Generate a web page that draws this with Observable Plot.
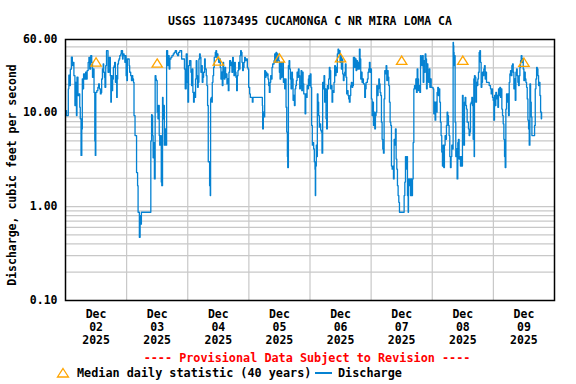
<!DOCTYPE html>
<html><head><meta charset="utf-8">
<script src="https://cdn.jsdelivr.net/npm/d3@7"></script>
<script src="https://cdn.jsdelivr.net/npm/@observablehq/plot@0.6"></script>
<style>
html,body{margin:0;padding:0;background:#fff;}
body{width:576px;height:384px;overflow:hidden;position:relative;font-family:"DejaVu Sans Mono",monospace;font-weight:bold;font-size:11.5px;color:#000;}
.abs{position:absolute;line-height:14px;white-space:nowrap;}
#title{top:14px;left:0;width:620px;text-align:center;}
#chart{position:absolute;top:30px;left:0;}
#prov{top:351px;left:0;width:614px;text-align:center;color:#ff0000;font-size:11.8px;}
#leg{top:366px;left:0;width:576px;height:14px;font-size:11.8px;}
</style></head><body>
<div id="title" class="abs"></div>
<div id="chart"></div>
<div id="prov" class="abs"></div>
<div id="leg" class="abs"></div>
<script>
// ---- data ----
const titleText = "USGS 11073495 CUCAMONGA C NR MIRA LOMA CA";
const yLabel = "Discharge, cubic feet per second";
const provisionalText = "---- Provisional Data Subject to Revision ----";
const legendMedian = "Median daily statistic (40 years)";
const legendDischarge = "Discharge";

// hours after 2025-12-02 00:00 and discharge (cfs)
const hours = [
0,0.4,1.0,1.1,1.3,1.6,1.9,2.3,2.7,3.0,3.3,3.7,4.0,4.3,4.5,4.9,5.3,5.6,5.8,6.1,6.4,6.6,6.9,7.1,7.5,7.9,8.2,8.5,8.9,9.2,9.5,9.9,10.3,10.6,10.8,11.2,11.5,11.6,11.7,11.9,
12.3,12.7,13.0,13.3,13.7,14.0,14.2,14.5,14.8,15.0,15.3,15.5,15.8,16.1,16.5,16.7,17.1,17.4,17.6,17.8,18.0,18.3,18.5,18.8,19.1,19.3,19.6,19.9,20.1,20.3,20.5,20.8,21.0,21.3,21.7,21.9,22.4,22.6,23.0,23.3,23.5,23.8,
24.1,24.3,24.7,25.0,25.2,25.6,25.9,26.2,26.4,26.7,26.9,27.3,27.6,27.9,28.1,28.3,28.5,28.9,29.0,29.3,29.6,29.8,33.4,33.5,33.8,34.0,34.2,34.4,34.7,34.9,35.2,35.5,35.7,36.0,36.3,36.5,36.8,37.0,37.3,37.6,37.8,
38.1,38.3,38.6,38.8,39.1,39.4,39.7,40.1,40.4,40.7,41.0,41.4,41.8,42.3,42.7,43.1,43.6,44.0,44.4,44.9,45.6,46.2,46.7,47.0,
47.40,47.79,48.06,48.32,48.71,48.97,49.24,49.50,49.76,50.02,50.28,50.55,50.81,51.07,51.33,51.60,51.86,52.12,52.38,52.64,52.91,53.17,53.43,53.69,53.96,54.22,54.61,54.87,55.27,55.53,55.79,56.05,56.31,56.58,56.84,56.97,
57.23,57.49,57.63,57.89,58.15,58.41,58.81,59.07,59.33,59.59,59.85,60.12,60.38,60.77,61.03,61.30,61.56,61.82,62.08,62.35,62.61,62.87,63.13,63.39,63.66,63.92,64.18,64.44,64.84,65.10,65.36,65.62,65.89,66.15,66.41,66.67,66.93,
67.20,67.46,67.72,67.98,68.24,68.51,68.77,69.03,69.29,69.56,69.82,70.08,70.34,70.60,71.00,71.39,71.65,71.92,72.31,72.57,73.10,73.36,73.62,77.03,77.29,77.42,77.68,77.95,78.21,78.47,78.73,78.99,79.26,79.52,79.78,80.04,
80.31,80.57,80.83,81.09,81.35,81.62,81.88,82.14,82.40,82.67,82.93,83.19,83.45,83.71,83.98,84.24,84.50,84.76,85.03,85.29,85.55,85.81,86.07,86.34,86.60,86.86,87.12,87.25,87.52,87.78,88.04,88.30,88.57,88.83,89.09,89.35,
89.61,89.88,90.14,90.40,90.66,90.93,91.19,91.45,91.71,91.97,92.24,92.50,92.76,93.02,93.29,93.55,93.81,94.07,94.33,94.60,94.86,95.12,95.38,
95.60,95.86,96.12,96.39,96.65,96.91,97.17,97.44,97.70,97.96,98.09,98.22,98.48,98.75,98.88,99.14,99.40,99.66,99.93,100.19,100.45,100.71,100.98,101.24,101.50,101.76,102.02,102.29,102.55,102.81,103.07,103.33,103.60,103.86,
104.12,104.38,104.65,104.91,105.17,105.43,105.69,105.96,106.22,106.48,106.74,107.01,107.27,107.53,107.79,108.05,108.32,108.58,108.84,109.10,109.37,109.63,109.89,110.15,110.41,110.68,110.94,111.20,111.46,111.73,111.99,
112.25,112.51,112.77,113.04,113.30,113.56,113.82,114.09,114.35,114.61,114.87,115.13,115.40,115.66,115.92,116.18,116.44,116.71,116.97,117.23,117.49,117.76,118.02,118.28,118.54,118.80,119.07,119.33,119.59,119.85,
120.12,120.38,120.64,120.90,121.16,121.43,121.69,121.95,122.21,122.48,122.74,123.00,123.26,123.52,123.79,124.05,124.31,124.57,124.84,125.10,125.36,125.62,125.88,126.15,126.41,126.67,126.93,127.20,127.46,127.72,127.98,
128.24,128.51,128.77,129.03,129.29,129.55,129.82,130.08,130.34,130.60,130.87,131.13,132.70,132.96,133.23,133.49,133.75,134.01,134.27,134.54,134.67,134.93,135.19,135.45,135.72,135.98,136.24,136.50,136.77,137.03,137.29,
137.55,137.81,138.08,138.34,138.60,138.86,139.13,139.39,139.65,139.91,140.17,140.44,140.70,140.96,141.22,141.49,141.75,142.01,142.27,142.53,142.80,143.06,143.32,143.58,
143.80,144.32,144.59,144.85,145.11,145.37,145.64,145.90,146.16,146.42,146.68,146.95,147.21,147.47,147.73,148.00,148.26,148.52,148.78,149.04,149.31,149.57,149.83,150.09,150.36,150.62,150.88,151.14,151.40,151.67,151.93,
152.19,152.32,152.45,152.58,152.71,152.98,153.24,153.50,153.76,154.03,154.29,154.55,154.81,155.07,155.34,155.60,155.86,156.12,156.39,156.65,156.91,157.17,157.43,157.70,157.96,158.22,158.48,158.75,159.01,159.27,159.53,
159.79,160.06,160.32,160.45,160.58,160.84,161.11,161.37,161.63,161.89,162.15,162.42,162.68,162.94,163.20,163.47,163.73,163.99,164.25,164.51,164.78,165.04,165.30,166.09,166.35,166.61,166.87,167.14,167.40,167.66,167.92,
168.18,168.45,168.71,168.97,169.23,169.50,169.76,170.02,170.28,170.54,170.81,171.07,171.33,171.59,171.86,172.12,172.38,172.64,172.90,173.17,173.43,173.69,173.95,174.22,174.48,174.74,175.00,175.26,175.53,175.79,176.05,
176.31,176.58,176.84,177.10,177.36,177.62,177.89,178.15,178.41,178.67,178.93,179.20,179.46,179.72,179.98,180.25,180.51,180.77,181.03,181.29,181.56,181.82,182.08,182.34,182.61,182.87,183.13,183.92,184.18,184.44,184.71,
184.97,185.23,185.49,185.75,186.02,186.28,186.54,186.80,186.93
];
const cfs = [
10.5,9.3,9.3,17.9,25,19.4,29,39,31.6,34.3,24.7,11.9,21,9.3,23.8,15.2,15.8,11.4,8.6,3.5,6.7,22.8,17.9,25.8,22.8,26.9,22.8,28,34.3,38.8,29.1,40.4,34.3,23.8,29.1,16.4,5.0,7.9,3.5,16.4,
17.1,18.6,20.2,17.9,15.8,16.4,22.8,29.1,32.9,26.9,23.8,18.6,31.6,45.6,45.6,26.9,38.8,38.8,24.7,12.9,24.7,17.1,22.8,30.3,31.6,34.3,21.0,24.7,14.5,22.8,32.9,35.7,37.2,40.4,42.1,45.6,37.2,42.1,40.4,34.3,40.4,24.7,
21.9,37.2,37.2,31.6,26.9,24.7,21.9,24.7,22.8,21.0,9.3,5.7,5.7,2.3,2.3,1.67,0.87,0.87,0.47,0.8,0.65,0.87,0.87,5.0,9.5,9.3,5.7,3.3,4.8,1.97,24.7,22.8,21.9,10.1,8.6,11.9,5.7,4.5,5.7,1.82,1.67,
14.5,8.6,11.9,4.5,6.7,4.5,45.6,31.6,40.4,29.1,37.2,38.8,40.4,42.1,43.8,45.6,42.1,40.4,43.8,45.6,37.2,37.2,29.1,17.9,
42.1,21.0,12.9,31.6,35.7,35.7,26.9,19.4,29.1,16.4,12.9,16.4,14.5,22.8,35.7,24.7,18.6,21.0,37.2,42.1,38.8,26.9,31.6,21.0,23.8,26.9,37.2,29.1,24.7,19.4,11.9,3.0,3.0,1.67,1.31,14.0,
14.5,12.9,21.0,24.7,30.3,38.8,43.8,45.6,38.8,42.1,37.2,34.3,37.2,30.3,22.8,26.9,19.4,34.3,26.9,22.8,30.3,23.8,25.8,20.2,22.8,17.1,26.9,35.7,31.6,34.3,26.9,38.8,29.1,24.7,34.3,26.9,23.8,
17.1,24.7,28.0,34.3,29.1,40.4,45.6,43.8,34.3,28.0,30.3,34.3,38.8,35.7,37.2,30.3,29.1,18.6,15.8,14.5,14.5,12.9,14.5,14.5,11.9,6.7,10.1,9.0,28.0,23.8,26.9,24.7,25.8,22.8,19.4,16.4,
21.0,24.7,22.8,30.3,32.9,32.9,35.7,42.1,34.3,43.8,34.3,42.1,40.4,35.7,26.9,22.8,34.3,23.8,29.1,34.3,21.0,22.8,17.9,22.8,11.4,6.2,3.4,2.6,31.6,35.7,29.1,22.8,17.9,26.9,22.8,13.5,
15.2,11.9,17.9,19.4,21.9,26.9,23.8,29.1,24.7,17.9,19.4,28.0,17.1,26.9,20.2,15.8,15.8,9.7,15.8,14.5,19.4,17.9,22.8,
24.7,19.4,25.8,18.6,7.3,4.5,4.8,4.1,3.0,2.5,1.31,2.7,4.5,3.4,15.8,12.9,9.3,7.0,7.6,6.5,6.2,3.7,21.0,17.9,24.7,12.9,17.9,8.6,6.7,19.4,17.9,22.8,30.3,28.0,
17.9,19.4,12.9,17.1,16.4,21.0,31.6,24.7,30.3,26.9,42.1,47.5,42.1,45.6,34.3,40.4,29.1,37.2,25.8,21.9,24.7,26.9,32.9,23.8,15.8,17.1,15.2,14.0,12.9,15.2,19.4,
21.0,18.6,19.4,38.8,38.8,30.3,37.2,28.0,35.7,29.1,34.3,29.1,47.5,37.2,22.8,26.9,21.0,22.8,20.2,20.2,14.5,17.9,21.0,21.0,22.8,26.9,29.1,34.3,26.9,29.1,
14.0,9.3,12.9,7.3,10.1,6.7,9.3,10.1,19.4,15.2,17.9,22.8,20.2,16.4,15.2,7.9,5.2,4.1,3.7,14.0,28.0,25.8,31.6,21.9,28.0,23.8,19.4,12.9,7.9,7.3,2.7,
2.5,2.7,1.97,5.2,4.5,6.7,3.2,2.5,1.67,1.31,1.11,0.87,0.87,1.31,1.82,3.4,2.5,3.4,1.31,0.87,1.97,1.67,1.97,1.31,1.97,1.31,1.97,4.8,17.9,19.4,17.9,
22.8,16.4,29.1,22.8,17.1,19.4,16.4,40.4,37.2,31.6,40.4,21.0,35.7,26.9,42.1,37.2,17.9,32.9,25.8,21.0,29.1,18.6,22.8,18.6,
18.6,17.9,9.7,12.9,8.3,12.9,10.1,16.4,18.6,15.2,17.9,12.9,7.9,5.7,3.8,2.7,4.5,2.6,4.5,5.7,5.2,7.3,10.1,9.3,7.3,5.7,3.4,2.6,3.4,4.5,4.1,
56,51.6,43.8,31.6,40.4,7.9,3.4,4.1,1.97,4.8,5.2,3.2,3.4,2.7,3.4,2.7,15.2,7.9,4.5,12.9,14.5,11.9,10.9,7.9,7.9,6.7,5.7,6.2,12.4,12.9,14.5,
11.9,5.2,22.8,3.4,24.7,23.8,12.9,21.0,19.4,22.8,26.9,43.8,45.6,34.3,18.6,21.0,26.9,24.7,29.1,31.6,22.8,26.9,21.0,21.0,19.4,19.4,17.9,15.8,17.9,14.5,13.5,
8.3,15.2,11.9,16.4,14.0,15.2,11.4,17.9,15.2,18.6,14.5,17.9,10.9,9.3,7.6,5.2,3.4,2.6,10.9,15.8,12.9,15.8,9.3,21.0,25.8,28.0,24.7,31.6,32.9,26.9,17.9,
22.8,13.5,26.9,29.1,24.7,21.0,19.4,24.7,30.3,35.7,40.4,34.3,37.2,29.1,21.9,26.9,22.8,21.0,18.6,14.0,8.3,6.7,4.5,20.2,12.9,9.0,5.7,5.7,7.3,17.9,22.8,
30.3,29.1,24.7,19.4,21.0,15.2,10.1,8.6,10.1
];

// median daily statistic, at noon of each day
const medianDays = [2, 3, 4, 5, 6, 7, 8, 9];
const medianCfs = [34.5, 33.6, 35.3, 38.0, 38.3, 36.0, 36.0, 34.3];

// axis ticks
const yTicks = [0.1, 1, 10, 60];
const yGrid = [0.2,0.3,0.4,0.5,0.6,0.7,0.8,0.9,1,2,3,4,5,6,7,8,9,10,20,30,40,50];
const xMonth = "Dec";
const xDays = ["02","03","04","05","06","07","08","09"];
const xYear = "2025";

// ---- build ----
const start = Date.UTC(2025, 11, 2);
const H = 3600e3;
const series = hours.map((h, i) => ({t: new Date(start + h * H), v: cfs[i]}));
const medians = medianDays.map((d, i) => ({t: new Date(Date.UTC(2025, 11, d, 12)), v: medianCfs[i]}));
const xTicks = xDays.map((d, i) => ({t: new Date(start + (i * 24 + 12) * H), label: xMonth + "\n" + d + "\n" + xYear}));
const dayLines = d3.range(1, 8).map(i => new Date(start + i * 24 * H));

const hollowTri = {
  draw(ctx) {
    ctx.moveTo(0, -4.3);
    ctx.lineTo(5.2, 4);
    ctx.lineTo(-5.2, 4);
    ctx.closePath();
  }
};

const chart = Plot.plot({
  width: 576,
  height: 322,
  marginTop: 9,
  marginBottom: 52,
  marginLeft: 65,
  marginRight: 22,
  x: {type: "utc", domain: [new Date(start), new Date(start + 8 * 24 * H)], axis: null},
  y: {type: "log", domain: [0.1, 60], axis: null},
  style: {fontFamily: '"DejaVu Sans Mono", monospace', fontWeight: "bold", fontSize: "11.5px", color: "#000", background: "#fff", overflow: "visible"},
  marks: [
    Plot.ruleY(yGrid, {stroke: "#c8c8c8", strokeWidth: 1.2}),
    Plot.ruleX(dayLines, {stroke: "#c8c8c8", strokeWidth: 1.2}),
    Plot.line(series, {x: "t", y: "v", stroke: "#0582d2", strokeWidth: 1.3, curve: "step-after"}),
    Plot.dot(medians, {x: "t", y: "v", symbol: hollowTri, stroke: "#ffa500", fill: "none", strokeWidth: 1.3}),
    Plot.frame({stroke: "#000", strokeWidth: 1.5}),
    Plot.text(yTicks, {y: d => d, text: d => d.toFixed(2), frameAnchor: "left", textAnchor: "end", dx: -8}),
    Plot.text(xTicks, {x: "t", text: "label", frameAnchor: "bottom", lineAnchor: "top", dy: 9, lineHeight: 1.1}),
    Plot.text([yLabel], {frameAnchor: "left", textAnchor: "middle", dx: -53, dy: 5, rotate: -90})
  ]
});
document.getElementById("chart").appendChild(chart);
document.getElementById("title").textContent = titleText;
document.getElementById("prov").textContent = provisionalText;

const leg = document.getElementById("leg");
leg.innerHTML =
  '<svg style="position:absolute;left:56px;top:1px" width="14" height="12"><path d="M7,1.5 L12.5,10 L1.5,10 Z" fill="none" stroke="#ffa500" stroke-width="1.3"/></svg>' +
  '<span style="position:absolute;left:77px;top:0"></span>' +
  '<div style="position:absolute;left:315px;top:6px;width:17px;height:1.5px;background:#0582d2"></div>' +
  '<span style="position:absolute;left:338px;top:0"></span>';
const spans = leg.querySelectorAll("span");
spans[0].textContent = legendMedian;
spans[1].textContent = legendDischarge;
</script>
</body></html>
